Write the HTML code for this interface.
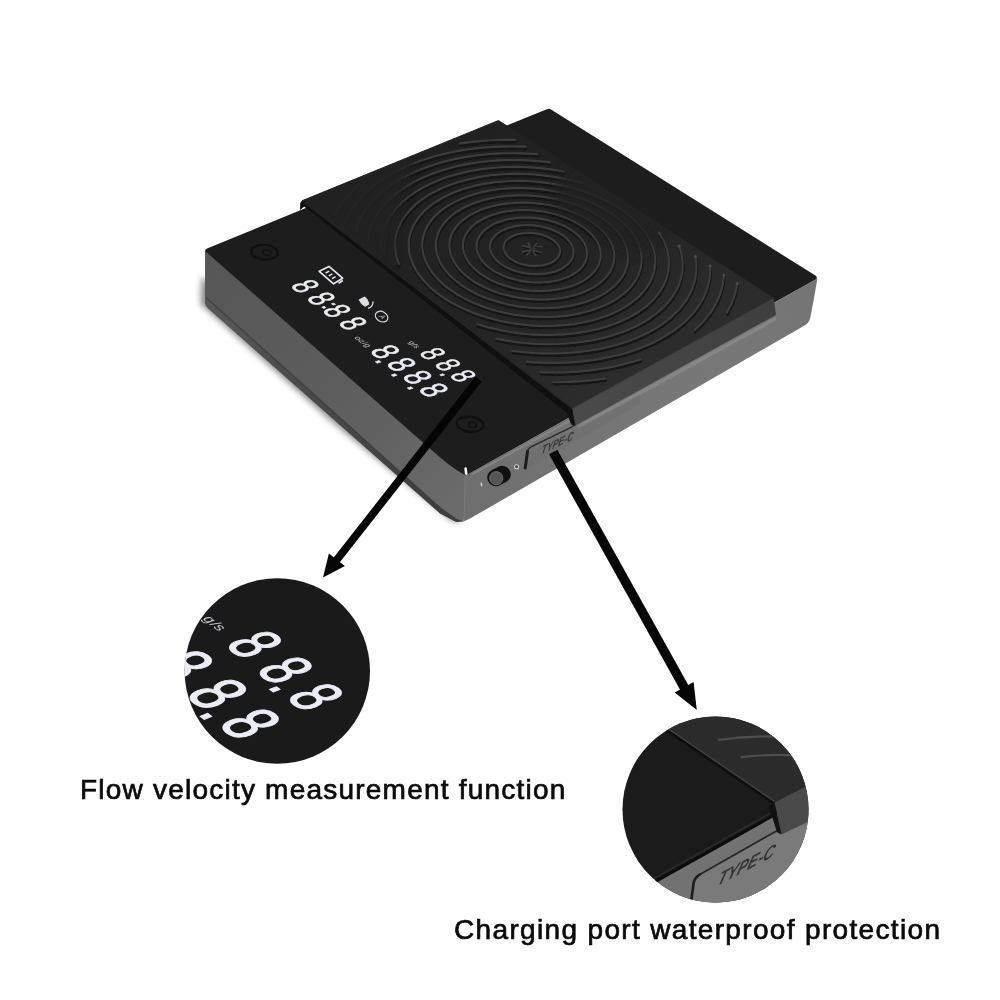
<!DOCTYPE html>
<html lang="en"><head><meta charset="utf-8"><title>Coffee scale features</title>
<style>
html,body{margin:0;padding:0;background:#fff;}
body{width:1000px;height:1000px;overflow:hidden;position:relative;font-family:"Liberation Sans",sans-serif;}
svg{position:absolute;left:0;top:0;display:block;will-change:transform;}
.cap{position:absolute;will-change:transform;margin:0;white-space:nowrap;color:#0a0a0a;font-size:28px;line-height:32px;font-weight:400;-webkit-text-stroke:0.7px #0a0a0a;}
.seg{font-family:"Liberation Sans",sans-serif;font-size:100px;font-weight:400;fill:#ececf6;stroke:#ececf6;stroke-width:2px;stroke-linejoin:miter;}
.lbl{font-family:"Liberation Sans",sans-serif;font-size:100px;fill:#c8c8d0;}
</style></head><body>
<svg width="1000" height="1000" viewBox="0 0 1000 1000">
<defs>
<filter id="b6" x="-50%" y="-50%" width="200%" height="200%"><feGaussianBlur stdDeviation="6"/></filter>
<filter id="b3" x="-50%" y="-50%" width="200%" height="200%"><feGaussianBlur stdDeviation="3"/></filter>
<filter id="b1" x="-20%" y="-20%" width="140%" height="140%"><feGaussianBlur stdDeviation="0.5"/></filter>
<linearGradient id="gL" gradientUnits="userSpaceOnUse" x1="205" y1="277" x2="468" y2="496">
 <stop offset="0" stop-color="#575757"/><stop offset="0.5" stop-color="#5d5d5d"/><stop offset="0.85" stop-color="#666666"/><stop offset="1" stop-color="#6c6c6c"/>
</linearGradient>
<linearGradient id="gLv" gradientUnits="userSpaceOnUse" x1="330" y1="355.2" x2="323.6" y2="362.9">
 <stop offset="0" stop-color="#000" stop-opacity="0.6"/><stop offset="0.45" stop-color="#000" stop-opacity="0.3"/><stop offset="1" stop-color="#000" stop-opacity="0"/>
</linearGradient>
<linearGradient id="gR" gradientUnits="userSpaceOnUse" x1="468" y1="496" x2="816" y2="299">
 <stop offset="0" stop-color="#6e6e6e"/><stop offset="0.25" stop-color="#747474"/><stop offset="0.7" stop-color="#787878"/><stop offset="1" stop-color="#747474"/>
</linearGradient>
<linearGradient id="gF" gradientUnits="userSpaceOnUse" x1="205" y1="300" x2="460" y2="520">
 <stop offset="0" stop-color="#585858"/><stop offset="0.35" stop-color="#4c4c4c"/><stop offset="1" stop-color="#3c3c3c"/>
</linearGradient>
<linearGradient id="gP" gradientUnits="userSpaceOnUse" x1="450" y1="150" x2="600" y2="390">
 <stop offset="0" stop-color="#202020"/><stop offset="0.55" stop-color="#232323"/><stop offset="1" stop-color="#2c2c2c"/>
</linearGradient>
<linearGradient id="gPs" gradientUnits="userSpaceOnUse" x1="573" y1="416" x2="775" y2="306">
 <stop offset="0" stop-color="#4a4a4a"/><stop offset="1" stop-color="#3f3f3f"/>
</linearGradient>
<clipPath id="c1"><circle cx="277.3" cy="671" r="92.7"/></clipPath>
<clipPath id="c2"><circle cx="715.5" cy="809.5" r="93"/></clipPath>

<clipPath id="cpP"><polygon points="302.2,200.7 571.7,408.1 773.6,297.6 498.5,120.5"/></clipPath>
</defs>
<rect width="1000" height="1000" fill="#ffffff"/>
<path d="M202 276 L200.5 304 L330 420 L452 521 L462 522 L440 500 L215 290 Z" fill="#3a3a3a" opacity="0.6" filter="url(#b3)"/>
<path d="M205 290 L205 303.5 Q205.5 306.5 208 308.6 L440 513.5 L456 522 L463.5 521.5 L440 500 Z" fill="url(#gF)" filter="url(#b1)"/>
<path d="M205 250.6 L440 457 L466 475.5 L466.5 500 L463.5 521.5 L455 518.3 L440 507.6 L208.5 299.6 Q205 296.5 205 292 Z" fill="url(#gL)"/>
<path d="M206.5 298 L440 507.8 L455 518.4" stroke="#3e3e3e" stroke-width="1.6" opacity="0.75" fill="none" stroke-linejoin="round"/>
<path d="M466 475.5 L817.4 278.6 L813.5 301 L810.2 318 Q809.4 322.6 805 325.2 L470 518.6 L463.5 521.5 Z" fill="url(#gR)"/>
<line x1="578" y1="427" x2="776" y2="318.6" stroke="#8c8c8c" stroke-width="3.4" opacity="0.75" filter="url(#b1)"/>
<line x1="472" y1="474.4" x2="570" y2="420.6" stroke="#8a8a8a" stroke-width="2" opacity="0.8" filter="url(#b1)"/>
<line x1="465.2" y1="477" x2="464.2" y2="520" stroke="#808080" stroke-width="1.2" opacity="0.6"/>
<path d="M205.6 251.6 L440 457.6 Q456 470.8 466 475.5 L816 279.2 Q818 277.6 815.4 275.6 L551 109.6 Q549 108.2 546.8 109.2 L207 248.6 Q204.6 249.8 205.6 251.6 Z" fill="#1d1d1d"/>
<path d="M465.6 468.6 l0.6 5" stroke="#f4f4f4" stroke-width="2.6" stroke-linecap="round"/>
<polygon points="571.7,408.1 773.6,297.6 776.0,315.0 575.0,425.8" fill="url(#gPs)"/>
<polygon points="302.2,200.7 571.7,408.1 575.0,425.8 571.6,424.4 567.1,412.7 304.2,206.2 300.3,209.4 300.8,202.7" fill="#101010" stroke="#101010" stroke-width="0.8" stroke-linejoin="round"/>
<polygon points="302.2,200.7 571.7,408.1 773.6,297.6 498.5,120.5" fill="url(#gP)" stroke="#232323" stroke-width="1" stroke-linejoin="round"/>
<line x1="571.7" y1="408.7" x2="773.6" y2="298.2" stroke="#3a3a3a" stroke-width="1.3"/>
<line x1="304.2" y1="202.2" x2="571.7" y2="408.1" stroke="#262626" stroke-width="1.2"/>
<defs><path id="rg" d="M551.1 262.7L552.1 262.1L553.1 261.6L554.1 260.9L555.0 260.3L555.8 259.6L556.5 258.9L557.2 258.2L557.8 257.5L558.3 256.7L558.8 255.9L559.2 255.1L559.5 254.3L559.7 253.4L559.9 252.6L560.0 251.7L560.0 250.9L559.9 250.0L559.8 249.1L559.5 248.3L559.2 247.4L558.9 246.6L558.4 245.7L557.9 244.9L557.3 244.1L556.6 243.3L555.9 242.5L555.1 241.7L554.2 240.9L553.3 240.2L552.4 239.5L551.3 238.8L550.3 238.2L549.1 237.6L548.0 237.0L546.7 236.4L545.5 235.9L544.2 235.4L542.9 235.0L541.5 234.6L540.1 234.2L538.7 233.9L537.3 233.6L535.9 233.4L534.4 233.2L533.0 233.0L531.5 232.9L530.1 232.9L528.6 232.8L527.2 232.9L525.7 232.9L524.3 233.0L522.9 233.2L521.6 233.4L520.2 233.6L518.9 233.9L517.6 234.2L516.4 234.6L515.2 235.0L514.0 235.5L512.9 235.9L511.9 236.5L510.9 237.0L509.9 237.6L509.0 238.2L508.2 238.9L507.4 239.5L506.7 240.2L506.1 241.0L505.5 241.7L505.1 242.5L504.6 243.3L504.3 244.1L504.0 244.9L503.8 245.8L503.7 246.6L503.7 247.5L503.7 248.3L503.8 249.2L504.0 250.1L504.3 250.9L504.6 251.8L505.0 252.6L505.5 253.5L506.1 254.3L506.7 255.1L507.4 256.0L508.2 256.7L509.0 257.5L509.9 258.3L510.9 259.0L511.9 259.7L513.0 260.4L514.1 261.0L515.3 261.6L516.5 262.2L517.8 262.7L519.1 263.2L520.5 263.7L521.9 264.1L523.3 264.5L524.7 264.8L526.2 265.1L527.6 265.4L529.1 265.6L530.6 265.7L532.1 265.8L533.6 265.9L535.1 265.9L536.6 265.9L538.0 265.8L539.5 265.7L540.9 265.5L542.3 265.3L543.7 265.1L545.0 264.8L546.3 264.4L547.6 264.1L548.8 263.6L550.0 263.2L551.1 262.7M560.5 269.3L562.1 268.5L563.5 267.6L564.9 266.7L566.2 265.7L567.4 264.7L568.5 263.7L569.5 262.6L570.4 261.5L571.2 260.3L571.9 259.2L572.4 258.0L572.9 256.7L573.2 255.5L573.5 254.2L573.6 253.0L573.5 251.7L573.4 250.4L573.2 249.1L572.8 247.9L572.4 246.6L571.8 245.3L571.1 244.1L570.3 242.8L569.5 241.6L568.5 240.4L567.4 239.3L566.2 238.1L564.9 237.0L563.6 236.0L562.1 234.9L560.6 233.9L559.0 233.0L557.3 232.1L555.6 231.2L553.8 230.4L551.9 229.7L550.0 229.0L548.1 228.3L546.1 227.7L544.1 227.2L542.0 226.7L539.9 226.3L537.8 226.0L535.7 225.7L533.5 225.4L531.4 225.3L529.2 225.2L527.1 225.1L525.0 225.2L522.9 225.3L520.8 225.4L518.8 225.7L516.7 225.9L514.8 226.3L512.8 226.7L510.9 227.2L509.1 227.7L507.3 228.3L505.6 229.0L504.0 229.7L502.4 230.4L500.9 231.2L499.5 232.1L498.2 233.0L497.0 233.9L495.8 234.9L494.8 236.0L493.8 237.0L493.0 238.2L492.3 239.3L491.6 240.5L491.1 241.7L490.7 242.9L490.4 244.1L490.2 245.4L490.1 246.6L490.1 247.9L490.3 249.2L490.6 250.5L490.9 251.8L491.4 253.0L492.0 254.3L492.7 255.6L493.6 256.8L494.5 258.1L495.5 259.3L496.7 260.4L497.9 261.6L499.3 262.7L500.7 263.8L502.2 264.8L503.8 265.8L505.5 266.8L507.2 267.7L509.1 268.5L511.0 269.4L512.9 270.1L514.9 270.8L517.0 271.4L519.1 272.0L521.2 272.5L523.4 272.9L525.6 273.3L527.8 273.6L530.0 273.9L532.3 274.0L534.5 274.1L536.7 274.2L538.9 274.1L541.1 274.0L543.3 273.8L545.4 273.6L547.5 273.3L549.5 272.9L551.5 272.4L553.4 271.9L555.3 271.4L557.1 270.7L558.8 270.0L560.5 269.3M570.0 275.9L572.1 274.9L574.0 273.7L575.9 272.5L577.6 271.2L579.2 269.9L580.6 268.5L582.0 267.0L583.1 265.5L584.1 264.0L585.0 262.4L585.8 260.8L586.3 259.2L586.8 257.6L587.0 255.9L587.1 254.2L587.1 252.5L586.9 250.8L586.6 249.1L586.1 247.4L585.5 245.7L584.7 244.1L583.8 242.4L582.7 240.8L581.6 239.2L580.2 237.6L578.8 236.1L577.2 234.6L575.5 233.1L573.7 231.7L571.8 230.4L569.8 229.1L567.7 227.8L565.5 226.6L563.2 225.5L560.8 224.5L558.3 223.5L555.8 222.5L553.3 221.7L550.6 220.9L547.9 220.2L545.2 219.6L542.5 219.1L539.7 218.6L536.9 218.2L534.1 217.9L531.2 217.7L528.4 217.6L525.6 217.5L522.8 217.6L520.1 217.7L517.3 217.9L514.6 218.2L512.0 218.6L509.3 219.0L506.8 219.6L504.3 220.2L501.9 220.9L499.5 221.7L497.3 222.5L495.1 223.4L493.1 224.4L491.1 225.5L489.2 226.6L487.5 227.8L485.8 229.1L484.3 230.4L482.9 231.7L481.6 233.2L480.5 234.6L479.5 236.1L478.6 237.7L477.9 239.2L477.4 240.8L476.9 242.5L476.7 244.1L476.6 245.8L476.6 247.5L476.8 249.2L477.1 250.9L477.6 252.6L478.2 254.3L479.0 256.0L479.9 257.7L481.0 259.3L482.2 261.0L483.6 262.6L485.1 264.2L486.7 265.7L488.5 267.2L490.4 268.6L492.4 270.0L494.5 271.3L496.8 272.6L499.1 273.8L501.5 275.0L504.0 276.1L506.6 277.1L509.3 278.0L512.1 278.8L514.9 279.6L517.7 280.3L520.6 280.9L523.5 281.4L526.5 281.8L529.4 282.1L532.4 282.3L535.4 282.5L538.3 282.5L541.3 282.5L544.2 282.3L547.1 282.1L549.9 281.7L552.7 281.3L555.4 280.8L558.1 280.2L560.6 279.5L563.1 278.7L565.5 277.9L567.8 276.9L570.0 275.9M579.6 282.7L582.2 281.3L584.6 279.9L586.9 278.3L589.1 276.7L591.0 275.0L592.8 273.3L594.4 271.5L595.9 269.6L597.1 267.7L598.2 265.7L599.1 263.7L599.8 261.7L600.3 259.6L600.6 257.6L600.7 255.5L600.7 253.3L600.4 251.2L600.0 249.1L599.4 247.0L598.6 244.9L597.6 242.8L596.4 240.8L595.1 238.8L593.6 236.8L591.9 234.8L590.1 232.9L588.2 231.1L586.0 229.3L583.8 227.5L581.4 225.9L578.9 224.3L576.3 222.7L573.5 221.3L570.7 219.9L567.7 218.6L564.7 217.3L561.6 216.2L558.4 215.2L555.1 214.2L551.8 213.3L548.4 212.6L545.0 211.9L541.6 211.3L538.1 210.9L534.6 210.5L531.1 210.2L527.6 210.1L524.2 210.0L520.7 210.1L517.3 210.2L513.9 210.5L510.5 210.9L507.2 211.3L504.0 211.9L500.8 212.5L497.7 213.3L494.8 214.2L491.8 215.1L489.0 216.2L486.3 217.3L483.8 218.5L481.3 219.8L479.0 221.2L476.8 222.7L474.7 224.2L472.8 225.8L471.1 227.5L469.5 229.3L468.1 231.1L466.8 232.9L465.7 234.9L464.8 236.8L464.1 238.8L463.5 240.8L463.2 242.9L463.0 245.0L463.0 247.1L463.2 249.2L463.6 251.3L464.2 253.5L465.0 255.6L465.9 257.7L467.1 259.8L468.4 261.9L469.9 263.9L471.6 265.9L473.4 267.9L475.5 269.8L477.7 271.7L480.0 273.5L482.5 275.2L485.2 276.9L487.9 278.5L490.8 280.1L493.9 281.5L497.0 282.9L500.3 284.1L503.6 285.3L507.1 286.3L510.6 287.3L514.1 288.2L517.8 288.9L521.4 289.5L525.1 290.1L528.8 290.5L532.6 290.7L536.3 290.9L540.0 291.0L543.7 290.9L547.3 290.7L550.9 290.4L554.5 290.0L558.0 289.4L561.4 288.8L564.7 288.0L567.9 287.2L571.0 286.2L574.0 285.1L576.9 283.9L579.6 282.7M589.3 289.5L592.4 287.8L595.3 286.1L598.1 284.2L600.6 282.3L603.0 280.2L605.1 278.1L607.0 276.0L608.7 273.7L610.2 271.4L611.5 269.0L612.5 266.6L613.3 264.2L613.9 261.7L614.2 259.2L614.4 256.7L614.3 254.2L613.9 251.6L613.4 249.1L612.6 246.6L611.6 244.1L610.4 241.6L609.0 239.2L607.4 236.8L605.6 234.4L603.6 232.1L601.4 229.8L599.0 227.6L596.5 225.5L593.8 223.4L590.9 221.4L587.9 219.5L584.8 217.7L581.5 215.9L578.1 214.3L574.6 212.7L570.9 211.3L567.2 209.9L563.4 208.7L559.5 207.6L555.6 206.5L551.6 205.6L547.5 204.8L543.4 204.2L539.3 203.6L535.1 203.2L531.0 202.9L526.8 202.7L522.7 202.6L518.6 202.7L514.5 202.9L510.5 203.2L506.5 203.6L502.6 204.1L498.7 204.8L494.9 205.6L491.3 206.5L487.7 207.5L484.2 208.6L480.9 209.8L477.6 211.2L474.6 212.6L471.6 214.2L468.8 215.8L466.2 217.6L463.7 219.4L461.4 221.3L459.3 223.3L457.4 225.4L455.7 227.6L454.2 229.8L452.8 232.1L451.7 234.4L450.8 236.8L450.2 239.2L449.7 241.7L449.5 244.2L449.4 246.7L449.7 249.2L450.1 251.8L450.8 254.3L451.7 256.9L452.8 259.4L454.1 261.9L455.7 264.4L457.5 266.9L459.5 269.3L461.7 271.7L464.1 274.0L466.7 276.2L469.5 278.4L472.5 280.5L475.7 282.6L479.0 284.5L482.5 286.3L486.2 288.1L489.9 289.7L493.8 291.2L497.9 292.7L502.0 293.9L506.2 295.1L510.5 296.1L514.9 297.0L519.3 297.8L523.7 298.4L528.2 298.9L532.7 299.3L537.2 299.5L541.7 299.5L546.1 299.4L550.5 299.2L554.9 298.8L559.1 298.3L563.3 297.7L567.4 296.9L571.4 296.0L575.3 294.9L579.0 293.7L582.6 292.4L586.0 291.0L589.3 289.5M599.1 296.3L602.7 294.4L606.1 292.3L609.3 290.2L612.3 287.9L615.0 285.5L617.4 283.0L619.7 280.5L621.6 277.8L623.3 275.1L624.8 272.4L625.9 269.5L626.9 266.7L627.5 263.8L627.9 260.9L628.0 257.9L627.8 255.0L627.4 252.0L626.7 249.1L625.8 246.2L624.6 243.3L623.2 240.4L621.5 237.5L619.6 234.7L617.5 232.0L615.2 229.3L612.6 226.7L609.8 224.1L606.9 221.7L603.7 219.3L600.4 217.0L596.9 214.8L593.2 212.6L589.4 210.6L585.4 208.7L581.3 207.0L577.1 205.3L572.8 203.7L568.4 202.3L563.9 201.0L559.3 199.8L554.7 198.8L550.0 197.9L545.2 197.1L540.4 196.5L535.7 196.0L530.9 195.6L526.1 195.4L521.3 195.3L516.5 195.4L511.8 195.6L507.1 195.9L502.5 196.4L497.9 197.0L493.5 197.8L489.1 198.7L484.9 199.7L480.7 200.9L476.7 202.2L472.8 203.6L469.0 205.2L465.4 206.8L462.0 208.6L458.8 210.5L455.7 212.5L452.8 214.7L450.1 216.9L447.7 219.2L445.4 221.6L443.4 224.1L441.6 226.7L440.0 229.3L438.7 232.0L437.6 234.8L436.8 237.6L436.2 240.5L435.9 243.4L435.9 246.3L436.1 249.2L436.6 252.2L437.3 255.2L438.3 258.2L439.6 261.1L441.1 264.1L442.9 267.0L445.0 269.8L447.3 272.7L449.9 275.5L452.7 278.2L455.7 280.8L459.0 283.4L462.4 285.9L466.1 288.2L470.0 290.5L474.1 292.7L478.3 294.7L482.8 296.7L487.3 298.5L492.0 300.1L496.9 301.6L501.8 303.0L506.8 304.2L512.0 305.3L517.1 306.2L522.3 306.9L527.6 307.5L532.9 307.9L538.1 308.2L543.4 308.2L548.6 308.1L553.7 307.8L558.8 307.4L563.8 306.8L568.7 306.0L573.5 305.1L578.2 304.0L582.7 302.8L587.1 301.4L591.3 299.8L595.3 298.2L599.1 296.3M609.0 303.3L613.1 301.0L617.0 298.7L620.6 296.2L624.0 293.5L627.1 290.8L629.9 287.9L632.4 285.0L634.6 282.0L636.5 278.9L638.1 275.7L639.4 272.5L640.4 269.2L641.1 265.9L641.5 262.5L641.6 259.2L641.4 255.8L640.9 252.4L640.1 249.1L639.0 245.7L637.6 242.4L636.0 239.2L634.0 235.9L631.8 232.7L629.4 229.6L626.7 226.6L623.7 223.6L620.6 220.7L617.2 217.9L613.5 215.2L609.7 212.6L605.7 210.1L601.5 207.7L597.2 205.4L592.7 203.3L588.0 201.2L583.3 199.3L578.3 197.6L573.3 196.0L568.2 194.5L563.0 193.2L557.7 192.0L552.4 191.0L547.0 190.1L541.6 189.4L536.2 188.8L530.7 188.4L525.3 188.2L519.8 188.1L514.4 188.1L509.1 188.4L503.8 188.8L498.5 189.3L493.4 190.0L488.3 190.9L483.4 191.9L478.5 193.0L473.8 194.4L469.2 195.8L464.8 197.4L460.5 199.2L456.4 201.1L452.5 203.1L448.8 205.2L445.3 207.5L442.0 209.9L438.9 212.4L436.1 215.1L433.5 217.8L431.1 220.6L429.0 223.5L427.2 226.5L425.7 229.6L424.4 232.8L423.5 236.0L422.8 239.2L422.4 242.5L422.3 245.9L422.5 249.3L423.0 252.6L423.8 256.0L424.9 259.4L426.4 262.8L428.1 266.2L430.1 269.5L432.4 272.8L435.1 276.1L438.0 279.3L441.1 282.4L444.6 285.4L448.3 288.4L452.3 291.2L456.5 294.0L460.9 296.6L465.6 299.1L470.4 301.5L475.5 303.7L480.7 305.8L486.1 307.7L491.7 309.4L497.3 311.0L503.1 312.4L509.0 313.7L514.9 314.7L520.9 315.5L527.0 316.2L533.0 316.7L539.1 316.9L545.1 317.0L551.1 316.9L557.0 316.6L562.8 316.1L568.6 315.4L574.2 314.5L579.7 313.4L585.1 312.1L590.2 310.7L595.2 309.1L600.0 307.3L604.6 305.4L609.0 303.3M619.0 310.3L623.6 307.8L628.0 305.1L632.1 302.2L635.8 299.2L639.3 296.1L642.4 292.9L645.2 289.6L647.6 286.1L649.8 282.6L651.5 279.0L653.0 275.4L654.1 271.7L654.8 268.0L655.2 264.2L655.3 260.4L655.0 256.6L654.4 252.8L653.4 249.1L652.2 245.3L650.6 241.6L648.7 237.9L646.5 234.3L644.0 230.7L641.2 227.3L638.1 223.8L634.8 220.5L631.2 217.3L627.4 214.1L623.3 211.1L619.0 208.2L614.5 205.4L609.8 202.8L604.9 200.2L599.9 197.8L594.7 195.6L589.3 193.5L583.8 191.5L578.2 189.7L572.5 188.1L566.7 186.6L560.8 185.3L554.8 184.2L548.8 183.2L542.8 182.4L536.7 181.8L530.6 181.3L524.5 181.0L518.5 180.9L512.4 181.0L506.4 181.2L500.5 181.7L494.7 182.3L488.9 183.1L483.2 184.0L477.7 185.1L472.2 186.4L466.9 187.9L461.8 189.5L456.8 191.3L452.0 193.2L447.5 195.3L443.1 197.6L438.9 200.0L434.9 202.5L431.2 205.2L427.7 208.0L424.5 210.9L421.6 214.0L418.9 217.1L416.6 220.4L414.5 223.8L412.7 227.2L411.3 230.7L410.1 234.3L409.3 238.0L408.8 241.7L408.7 245.5L408.9 249.3L409.4 253.1L410.3 256.9L411.5 260.7L413.1 264.6L415.0 268.4L417.2 272.1L419.8 275.8L422.7 279.5L426.0 283.1L429.5 286.7L433.4 290.1L437.5 293.4L442.0 296.7L446.7 299.8L451.7 302.8L457.0 305.6L462.5 308.3L468.2 310.8L474.1 313.2L480.2 315.3L486.4 317.3L492.8 319.1L499.4 320.7L506.0 322.1L512.7 323.3L519.5 324.3L526.3 325.0L533.2 325.6L540.0 325.9L546.8 326.0L553.6 325.8L560.3 325.4L566.9 324.9L573.4 324.1L579.8 323.0L586.0 321.8L592.0 320.4L597.9 318.7L603.5 316.9L608.9 314.9L614.1 312.7L619.0 310.3M477.5 324.2L481.1 325.3L488.2 327.4L495.5 329.1L503.0 330.7L510.5 332.0L518.1 333.1L525.7 334.0L533.3 334.6L541.0 334.9L548.6 335.0L556.2 334.8L563.7 334.4L571.1 333.8L578.3 332.9L585.4 331.7L592.3 330.3L599.1 328.7L605.6 326.9L611.9 324.8L617.9 322.5L623.7 320.0L629.1 317.4L634.3 314.5L639.1 311.5L643.6 308.3L647.8 305.0L651.6 301.5L655.0 297.9L658.1 294.2L660.8 290.3L663.1 286.4L665.0 282.4L666.6 278.3L667.7 274.2L668.5 270.1L668.9 265.9L668.9 261.7L668.6 257.5L667.8 253.2L666.8 249.1L665.3 244.9L663.5 240.8L661.3 236.7L659.3 233.4M581.9 183.2L576.7 181.7L570.3 180.1L563.8 178.7L557.2 177.4L550.6 176.4L543.9 175.5L537.2 174.8L530.5 174.3L523.8 174.0L517.1 173.9L510.4 173.9L503.8 174.2L497.3 174.7L490.8 175.3L484.4 176.2L478.2 177.2L472.0 178.5L466.0 179.9L460.2 181.5L454.5 183.3L449.0 185.2L443.7 187.4L438.6 189.7L433.7 192.2L429.0 194.8L424.6 197.6L420.5 200.5L416.6 203.6L413.1 206.9L409.8 210.2L406.8 213.7L404.1 217.3L401.8 221.0L399.8 224.8L398.1 228.7L396.8 232.7L395.9 236.8L395.3 240.9L395.1 245.1L395.3 249.3L395.8 253.5L396.7 257.8L398.1 262.0L398.9 264.2M496.5 338.7L499.9 339.4L508.2 340.9L516.6 342.1L525.0 343.0L533.5 343.7L542.0 344.1L550.4 344.2L558.8 344.0L567.1 343.5L575.2 342.8L583.3 341.8L591.1 340.5L598.8 339.0L606.2 337.2L613.4 335.1L620.3 332.8L627.0 330.3L633.3 327.5L639.3 324.5L645.0 321.4L650.3 318.0L655.2 314.5L659.8 310.8L663.9 306.9L667.7 302.9L671.0 298.8L674.0 294.5L676.5 290.2L678.6 285.8L680.2 281.3L681.4 276.7L682.3 272.2L682.6 267.5L682.6 262.9L682.2 258.3L681.3 253.7L680.1 249.1L679.1 246.2M564.0 171.6L559.5 170.8L552.3 169.6L545.0 168.7L537.7 167.9L530.3 167.4L523.0 167.0L515.7 166.9L508.4 167.0L501.2 167.3L494.1 167.8L487.0 168.5L480.0 169.4L473.2 170.5L466.5 171.9L459.9 173.4L453.5 175.2L447.2 177.1L441.2 179.2L435.4 181.6L429.8 184.1L424.4 186.8L419.3 189.6L414.5 192.7L409.9 195.9L405.6 199.3L401.7 202.8L398.0 206.5L394.7 210.3L391.7 214.2L389.1 218.3L386.9 222.5L385.0 226.7L383.6 231.1L382.5 235.6L381.8 240.1L381.5 244.7L381.6 249.3L381.8 251.2M512.4 350.8L515.1 351.2L524.4 352.2L533.7 353.0L543.0 353.4L552.2 353.5L561.4 353.3L570.5 352.8L579.5 351.9L588.3 350.8L596.9 349.4L605.3 347.7L613.4 345.7L621.3 343.4L628.9 340.9L636.2 338.1L643.1 335.0L649.6 331.8L655.8 328.3L661.6 324.6L667.0 320.7L671.9 316.6L676.4 312.3L680.5 307.9L684.1 303.4L687.2 298.8L689.9 294.0L692.2 289.2L693.9 284.3L695.2 279.3L696.0 274.3L696.4 269.2L696.3 264.2L695.8 259.1L695.4 256.8M549.8 162.4L546.1 161.9L538.2 161.1L530.2 160.5L522.3 160.1L514.4 160.0L506.5 160.1L498.6 160.4L490.9 161.0L483.2 161.7L475.7 162.7L468.2 163.9L460.9 165.4L453.8 167.0L446.8 168.9L440.1 171.0L433.5 173.3L427.2 175.8L421.1 178.5L415.2 181.4L409.6 184.5L404.3 187.8L399.3 191.3L394.7 194.9L390.3 198.8L386.3 202.7L382.7 206.9L379.4 211.1L376.5 215.5L374.0 220.1L372.0 224.7L370.3 229.5L369.1 234.3L368.2 239.3L368.1 240.7M526.8 361.8L533.8 362.4L544.0 362.8L554.1 362.9L564.1 362.7L574.0 362.1L583.8 361.2L593.4 360.0L602.8 358.4L611.9 356.5L620.8 354.4L629.3 351.9L637.6 349.1L645.4 346.0L653.0 342.7L660.1 339.1L666.7 335.2L673.0 331.2L678.8 326.9L684.1 322.5L689.0 317.8L693.4 313.0L697.2 308.1L700.6 303.0L703.5 297.9L705.8 292.6L707.7 287.2L709.0 281.8L709.8 276.4L710.2 270.9L710.1 266.3M537.3 154.3L530.1 153.7L521.5 153.4L513.0 153.2L504.5 153.3L496.1 153.6L487.8 154.2L479.5 155.0L471.4 156.1L463.4 157.4L455.5 158.9L447.8 160.7L440.3 162.7L433.0 164.9L425.9 167.4L419.0 170.1L412.4 173.0L406.1 176.1L400.0 179.5L394.3 183.0L388.9 186.7L383.8 190.6L379.1 194.7L374.7 199.0L370.7 203.5L367.1 208.1L364.0 212.8L361.2 217.7L358.9 222.7L357.1 227.9L356.0 231.5M694.7 330.0L696.5 328.4L701.6 323.4L706.3 318.2L710.4 312.8L714.0 307.3L717.0 301.7L719.5 296.0L721.4 290.2L722.8 284.4L723.7 278.5L723.9 275.3M525.8 146.8L520.8 146.6L511.7 146.5L502.6 146.6L493.6 146.9L484.7 147.5L475.8 148.4L467.1 149.5L458.5 150.9L450.1 152.5L441.8 154.4L433.8 156.6L425.9 158.9L418.3 161.6L411.0 164.4L403.8 167.5L397.0 170.9L390.5 174.4L384.3 178.2L378.5 182.2L373.0 186.4L367.9 190.8L363.1 195.3L358.8 200.1L354.9 205.0L351.4 210.1L348.4 215.4L345.9 220.7L345.0 223.1M540.4 372.2L545.0 372.4L556.0 372.5L566.8 372.2L577.6 371.6L588.2 370.6L598.5 369.3L608.7 367.6L618.6 365.5L628.2 363.1L637.4 360.4L640.3 359.5M727.0 312.4L727.5 311.6L730.7 305.6L733.3 299.4L735.3 293.2L736.7 286.9L737.2 283.9M515.1 139.9L510.4 139.8L500.7 139.9L491.1 140.3L481.6 140.9L472.2 141.9L462.9 143.1L459.7 143.5M358.6 185.2L356.7 186.8L351.6 191.7L346.9 196.7L342.7 202.0L339.0 207.4L335.7 213.0L334.6 215.1M553.4 382.2L557.9 382.2L569.6 381.9L581.2 381.2L592.6 380.2L603.8 378.7L605.3 378.5"/></defs>
<g fill="none" stroke-linecap="round" stroke-linejoin="round" filter="url(#b1)">
<use href="#rg" stroke="#131313" stroke-width="2.6" transform="translate(0.4,2.1)"/>
<use href="#rg" stroke="#3e3e3e" stroke-width="2.1"/>
</g>
<g fill="#4c4c4c"><circle cx="659.3" cy="233.1" r="1.5"/><circle cx="679.1" cy="245.9" r="1.5"/><circle cx="695.4" cy="256.5" r="1.5"/><circle cx="710.1" cy="266.0" r="1.5"/><circle cx="723.9" cy="275.0" r="1.5"/><circle cx="737.2" cy="283.6" r="1.5"/></g>
<g clip-path="url(#cpP)">
<path d="M575 170 L655 222 L640 246 L560 200 Z" fill="#222222" stroke="#222222" stroke-width="16" stroke-linejoin="round" opacity="0.8" filter="url(#b6)"/>
<path d="M300 200 L410 156 L392 208 L384 262 Z" fill="#212121" stroke="#212121" stroke-width="12" stroke-linejoin="round" opacity="0.9" filter="url(#b6)"/>
</g>
<g stroke="#3d3d3d" stroke-width="2" stroke-linecap="round" stroke-linejoin="round" fill="none" transform="translate(531.8 249.2)"><path d="M-9 -3.5 L-1.5 -1.2 L-3.5 -6.5 M9 3.2 L1.5 1.2 L3.8 6.2 M4.5 -5.5 L1.5 -1 L9.5 -2.6 M-4.5 5.4 L-1.5 1 L-9.5 2.8"/></g>
<g stroke="#0c0c0c" stroke-width="1.2" stroke-linecap="round" fill="none" opacity="0.8" transform="translate(531.8 249.2)"><path d="M-8.5 -2 L-2.5 0 M8.5 4.6 L3 3 M3 -1.6 L8.5 -1.2 M-3.4 2.8 L-8.5 4.2"/></g>
<g id="display">
<text class="seg" transform="matrix(0.1947 0.1514 -0.3136 0.1118 289.23 285.87)" x="0.0 81.7 163.4 245.1" y="0">8888</text><text class="seg" transform="matrix(0.1947 0.1514 -0.2258 0.0805 320.02 305.74)">:</text>
<text class="seg" transform="matrix(0.2077 0.1644 -0.3253 0.1133 368.56 351.00)" x="0.0 77.8 155.6 233.3" y="0">8888</text><text class="seg" transform="matrix(0.2077 0.1644 -0.3253 0.1133 373.62 360.30)">.</text><text class="seg" transform="matrix(0.2077 0.1644 -0.3253 0.1133 389.52 373.40)">.</text><text class="seg" transform="matrix(0.2077 0.1644 -0.3253 0.1133 405.42 386.50)">.</text>
<text class="seg" transform="matrix(0.1904 0.1384 -0.2846 0.1016 417.85 353.33)" x="0.0 80.0 160.0" y="0">888</text><text class="seg" transform="matrix(0.1904 0.1384 -0.2846 0.1016 438.07 373.40)">.</text>
<text class="lbl" transform="matrix(0.0578 0.0467 -0.0693 0.0253 408.02 342.28)" x="0.0 58.0 86.0" y="0">g/s</text>
<text class="lbl" transform="matrix(0.0689 0.0533 -0.0720 0.0267 353.84 337.43)" x="0.0 58.0 110.0 138.0" y="0">oz/g</text>
<g fill="none" stroke="#e6e6f0" stroke-width="1.7" stroke-linejoin="round"><polygon points="319.2,271.3 329.0,266.4 342.6,278.2 333.6,283.8"/></g>
<g stroke="#e6e6f0" stroke-width="1.5" fill="none"><path d="M325.6 273.0l3.6-1.9M328.8 275.8l3.6-1.9M332.0 278.6l3.6-1.9"/><path d="M338.6 283.2l4.2-2.6" stroke-width="1.8"/></g>
<path d="M358.6 299.6 L364.6 296.6 Q368.6 299 369.2 304.4 L365.2 306.8 Q361 304.8 358.6 299.6 Z" fill="#dcdce4"/>
<path d="M368.6 308.2q4.4-1.4 4.4-6.4" fill="none" stroke="#dcdce4" stroke-width="1.3" stroke-linecap="round"/>
<ellipse cx="381.6" cy="316.6" rx="6.6" ry="5" fill="none" stroke="#d8d8e0" stroke-width="1.2" transform="rotate(28 381.6 316.6)"/>
<text class="lbl" transform="matrix(0.0515 0.0409 -0.0667 0.0246 378.40 316.20)" x="0.0" y="0">A</text>
</g>
<g transform="rotate(4.0 264.5 252.2)" fill="none" filter="url(#b1)"><ellipse cx="264.5" cy="252.2" rx="13.4" ry="7.3" stroke="#0b0b0b" stroke-width="1.9"/><ellipse cx="267.0" cy="252.2" rx="4.0" ry="2.6" stroke="#0d0d0d" stroke-width="1.4"/></g>
<g transform="rotate(6.0 470.0 424.2)" fill="none" filter="url(#b1)"><ellipse cx="470.0" cy="424.2" rx="13.4" ry="7.5" stroke="#0b0b0b" stroke-width="1.9"/><ellipse cx="472.5" cy="424.2" rx="4.0" ry="2.7" stroke="#0d0d0d" stroke-width="1.4"/></g>
<rect x="487" y="467.5" width="24" height="17" rx="8" fill="#101010" transform="rotate(-27 499 476)"/>
<circle cx="496.3" cy="478.2" r="6.6" fill="#555"/><circle cx="496.3" cy="478.2" r="6.6" fill="none" stroke="#777" stroke-width="0.8"/>
<circle cx="516.6" cy="466.8" r="2" fill="#3a3a3a" stroke="#d8d8d8" stroke-width="1.1"/>
<line x1="481.3" y1="482.6" x2="481.6" y2="486.2" stroke="#e0e0e0" stroke-width="1.3"/>
<path d="M525.2 468 L527.6 451" fill="none" stroke="#1c1c1c" stroke-width="3" stroke-linecap="round"/>
<path d="M528.4 449.4 Q529.4 447.6 531.6 446.6 L573 426.4" fill="none" stroke="#2a2a2a" stroke-width="1.5" stroke-linecap="round"/>
<path d="M527.5 468.5 L529.6 452.5 L573 430.5 L640 394 L640 404 L527.5 468.5Z" fill="#6a6a6a" opacity="0.35"/>
<text transform="matrix(0.0873 -0.0415 -0.0232 0.1217 540.80 454.60)" font-family="Liberation Sans,sans-serif" font-weight="700" font-size="100" fill="#303030" font-style="italic" opacity="0.9">TYPE-C</text>
<line x1="478.6" y1="379.0" x2="335.6" y2="561.4" stroke="#050505" stroke-width="7.8"/><polygon points="323.0,577.5 328.9,553.5 336.9,559.8 344.9,566.1" fill="#050505"/>
<line x1="553.2" y1="452.0" x2="685.1" y2="689.0" stroke="#050505" stroke-width="9.5"/><polygon points="696.8,710.0 674.7,692.5 684.2,687.3 693.6,682.0" fill="#050505"/>
<g clip-path="url(#c1)">
<circle cx="277.3" cy="671" r="93.5" fill="#1a1a1a"/>
<text class="seg" transform="matrix(0.3807 0.2856 -0.6186 0.2410 223.30 644.62)" x="0.0" y="0">8</text>
<text class="seg" transform="matrix(0.3807 0.2856 -0.6186 0.2410 253.90 670.22)" x="0.0" y="0">8</text>
<text class="seg" transform="matrix(0.3807 0.2856 -0.6186 0.2410 284.30 697.02)" x="0.0" y="0">8</text>
<text class="seg" transform="matrix(0.3807 0.2856 -0.6186 0.2410 266.19 686.68)">.</text>
<text class="seg" transform="matrix(0.4240 0.3115 -0.6679 0.2759 149.28 665.90)" x="0.0" y="0">8</text>
<text class="seg" transform="matrix(0.4240 0.3115 -0.6679 0.2759 183.28 694.50)" x="0.0" y="0">8</text>
<text class="seg" transform="matrix(0.4240 0.3115 -0.6679 0.2759 216.08 724.30)" x="0.0" y="0">8</text>
<text class="seg" transform="matrix(0.4240 0.3115 -0.6679 0.2759 196.43 713.40)">.</text>
<text class="lbl" transform="matrix(0.1200 0.0933 -0.1333 0.0507 201.82 618.56)" x="0.0 60.0 88.0" y="0">g/s</text>
</g>
<g clip-path="url(#c2)">
<circle cx="715.5" cy="809.5" r="94" fill="#1b1b1b"/>
<polygon points="600.0,915.0 600.0,913.6 772.0,817.3 790.0,806.0 830.0,786.0 830.0,920.0" fill="#727272"/>
<path d="M690 912 L693.6 883 Q694.6 877.6 700 874.4 L772 833.5 L830 802 L830 920 L690 920 Z" fill="#7a7a7a"/>
<path d="M690.6 906 L693.6 883 Q694.6 877.6 700 874.4" fill="none" stroke="#1c1c1c" stroke-width="2.6" stroke-linecap="round"/>
<path d="M699 875 L772 833.5 L830 802" fill="none" stroke="#262626" stroke-width="1.7"/>
<text transform="matrix(0.1541 -0.0807 -0.0609 0.1971 716.40 886.20)" font-family="Liberation Sans,sans-serif" font-weight="700" font-size="100" fill="#343434" font-style="italic">TYPE-C</text>
<line x1="600" y1="912.6" x2="772" y2="816.3" stroke="#0c0c0c" stroke-width="3"/>
<line x1="640" y1="886.4" x2="770" y2="813.4" stroke="#2c2c2c" stroke-width="1.6"/>
<polygon points="640.0,710.6 672.8,734.0 774.4,802.6 830.0,774.0 830.0,690.0 640.0,690.0" fill="#2b2b2b"/>
<line x1="640" y1="711.6" x2="774.4" y2="803.6" stroke="#0e0e0e" stroke-width="3"/>
<line x1="640" y1="709.4" x2="774.4" y2="801.4" stroke="#444444" stroke-width="1.3"/>
<polygon points="774.4,802.6 830.0,774.0 830.0,811.0 781.6,834.4" fill="#4a4a4a"/>
<polygon points="769.0,806.8 774.4,802.6 781.6,834.4 777.0,832.2" fill="#121212"/>
<path d="M718.6 739.8 Q748 735.6 778 736.6 M741.6 757.2 Q770 753.8 795 755.4" fill="none" stroke="#4e4e4e" stroke-width="2.2" stroke-linecap="round"/>
</g>
</svg>
<p class="cap" style="left:80.3px;top:773.5px;letter-spacing:1.22px;">Flow velocity measurement function</p>
<p class="cap" style="left:454.4px;top:913.5px;letter-spacing:1.34px;">Charging port waterproof protection</p>
</body></html>
